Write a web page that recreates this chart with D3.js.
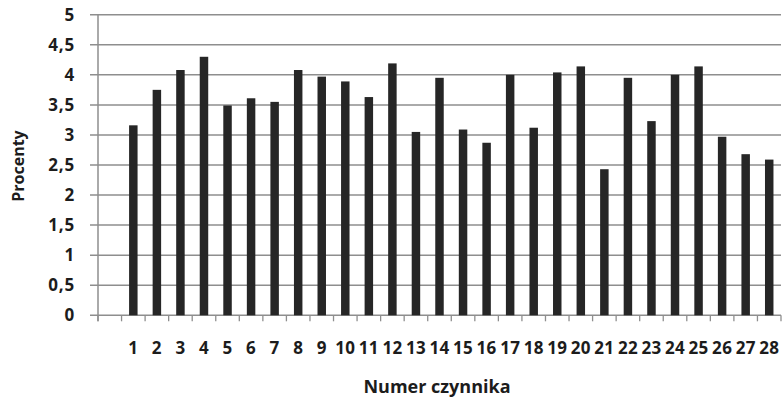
<!DOCTYPE html>
<html>
<head>
<meta charset="utf-8">
<script src="https://cdn.jsdelivr.net/npm/d3@7"></script>
<style>
  html, body { margin: 0; padding: 0; background: #fff; }
  svg { display: block; }
  text { font-family: "Open Sans", "DejaVu Sans", sans-serif; font-weight: 700; fill: #1c1c1c; }
</style>
</head>
<body>
<svg id="chart" width="783" height="399"></svg>
<script>
// Factor numbers (the first slot on the axis is left empty)
const categories = ["1","2","3","4","5","6","7","8","9","10","11","12","13","14",
                    "15","16","17","18","19","20","21","22","23","24","25","26","27","28"];
// Percentage per factor
const values = [3.16, 3.75, 4.08, 4.30, 3.49, 3.61, 3.55, 4.08, 3.97, 3.89, 3.63, 4.19, 3.05, 3.95,
                3.09, 2.87, 4.00, 3.12, 4.04, 4.14, 2.43, 3.95, 3.23, 4.00, 4.14, 2.97, 2.68, 2.59];
// Value axis ticks and their labels
const yTicks = [0, 0.5, 1, 1.5, 2, 2.5, 3, 3.5, 4, 4.5, 5];
const yTickLabels = ["0", "0,5", "1", "1,5", "2", "2,5", "3", "3,5", "4", "4,5", "5"];
const xTitle = "Numer czynnika";
const yTitle = "Procenty";

const svg = d3.select("#chart");
const plotLeft = 98, plotRight = 781, plotTop = 14.7, plotBottom = 315.3;

const x = d3.scaleBand()
  .domain([""].concat(categories))
  .range([plotLeft, plotRight])
  .paddingInner(0.64)
  .paddingOuter(0.32);

const y = d3.scaleLinear().domain([0, 5]).range([plotBottom, plotTop]);

const gridColor = "#8e8e8e";

// Horizontal gridlines, reaching a little left of the value axis
svg.append("g")
  .selectAll("line")
  .data(yTicks)
  .join("line")
  .attr("x1", plotLeft - 8)
  .attr("x2", plotRight)
  .attr("y1", d => y(d))
  .attr("y2", d => y(d))
  .attr("stroke", gridColor)
  .attr("stroke-width", 1.5);

// Value axis line
svg.append("line")
  .attr("x1", plotLeft).attr("x2", plotLeft)
  .attr("y1", y(5)).attr("y2", plotBottom + 6)
  .attr("stroke", gridColor).attr("stroke-width", 1.5);

// Bars
svg.append("g")
  .selectAll("rect")
  .data(values)
  .join("rect")
  .attr("x", (d, i) => x(categories[i]))
  .attr("width", x.bandwidth())
  .attr("y", d => y(d))
  .attr("height", d => y(0) - y(d))
  .attr("fill", "#262626");

// Category ticks on the boundaries between slots
const step = x.step();
const boundaries = d3.range(x.domain().length + 1).map(i => plotLeft + i * step);
svg.append("g")
  .selectAll("line")
  .data(boundaries)
  .join("line")
  .attr("x1", d => d).attr("x2", d => d)
  .attr("y1", plotBottom).attr("y2", plotBottom + 6)
  .attr("stroke", gridColor).attr("stroke-width", 1.3);

// Category axis with labels
const xAxis = svg.append("g")
  .attr("transform", `translate(0,${plotBottom})`)
  .call(d3.axisBottom(x).tickSize(0).tickPadding(26.5));
xAxis.select(".domain").remove();
xAxis.selectAll("text")
  .attr("font-size", 17)
  .attr("font-family", "\"Open Sans\", sans-serif")
  .attr("font-weight", 700)
  .attr("fill", "#1c1c1c")
  .attr("letter-spacing", "0.3px");

// Value axis labels
const yAxis = svg.append("g")
  .attr("transform", `translate(${plotLeft},0)`)
  .call(d3.axisLeft(y).tickValues(yTicks).tickFormat((d, i) => yTickLabels[i]).tickSize(0).tickPadding(23));
yAxis.select(".domain").remove();
yAxis.selectAll("text")
  .attr("font-size", 17)
  .attr("font-family", "\"Open Sans\", sans-serif")
  .attr("font-weight", 700)
  .attr("fill", "#1c1c1c")
  .attr("letter-spacing", "0.8px");

// Axis titles
svg.append("text")
  .attr("x", 437).attr("y", 393)
  .attr("text-anchor", "middle")
  .attr("font-size", 18)
  .text(xTitle);

svg.append("text")
  .attr("transform", "translate(23.5,166) rotate(-90)")
  .attr("text-anchor", "middle")
  .attr("font-size", 16)
  .text(yTitle);
</script>
</body>
</html>
